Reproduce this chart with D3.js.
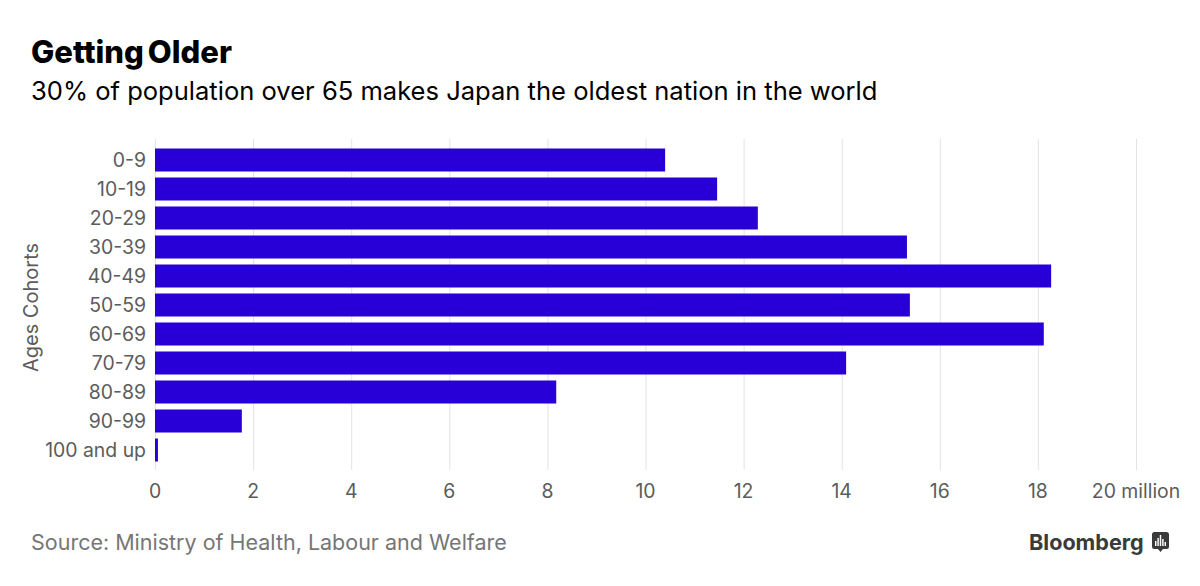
<!DOCTYPE html>
<html><head><meta charset="utf-8">
<script src="https://cdn.jsdelivr.net/npm/d3@7"></script>
<style>
html,body{margin:0;padding:0;background:#fff}
svg{display:block}
text{font-family:Inter,"Liberation Sans",Arial,sans-serif}
</style></head><body>
<svg id="c" width="1200" height="586"></svg>
<script>
const categories=["0-9","10-19","20-29","30-39","40-49","50-59","60-69","70-79","80-89","90-99","100 and up"];
const values=[10.4,11.46,12.29,15.33,18.27,15.39,18.12,14.09,8.18,1.77,0.06];
const tickValues=[0,2,4,6,8,10,12,14,16,18,20];
const logoBars=[5,8,11,7,4];

const svg=d3.select("#c");
const x=d3.scaleLinear().domain([0,20]).range([155,1136]);
const y=d3.scaleBand().domain(categories).range([145.5,464.5]).paddingInner(6/29).paddingOuter(3/29);

svg.append("g").selectAll("line").data(tickValues).join("line")
  .attr("x1",d=>x(d)+.5).attr("x2",d=>x(d)+.5).attr("y1",139).attr("y2",470)
  .attr("stroke","#e3e3e6").attr("stroke-width",1);

svg.append("g").selectAll("rect").data(values).join("rect")
  .attr("x",x(0)).attr("y",(d,i)=>y(categories[i]))
  .attr("width",d=>x(d)-x(0)).attr("height",y.bandwidth())
  .attr("fill","#2800d7");

svg.append("g").selectAll("text").data(categories).join("text")
  .attr("x",146).attr("y",d=>y(d)+y.bandwidth()/2+7)
  .attr("text-anchor","end").attr("font-size",19.4).attr("fill","#5c5c5c").text(d=>d);

svg.append("g").selectAll("text").data(tickValues).join("text")
  .attr("x",d=>d===20?1136:x(d)).attr("y",498)
  .attr("text-anchor","middle").attr("font-size",19.4).attr("fill","#5c5c5c")
  .text(d=>d===20?"20 million":d);

svg.append("text").attr("transform","translate(38,307.5) rotate(-90)")
  .attr("text-anchor","middle").attr("font-size",20).attr("fill","#5c5c5c").text("Ages Cohorts");

svg.append("text").attr("x",31).attr("y",63).attr("font-size",31).attr("font-weight",800)
  .attr("fill","#000").attr("letter-spacing",.03).attr("word-spacing",-3).text("Getting Older");
svg.append("text").attr("x",31).attr("y",100).attr("font-size",25.55).attr("fill","#000").text("30% of population over 65 makes Japan the oldest nation in the world");
svg.append("text").attr("x",31).attr("y",550).attr("font-size",21.5).attr("fill","#767676").text("Source: Ministry of Health, Labour and Welfare");
svg.append("text").attr("x",1029).attr("y",550).attr("font-size",21.6).attr("font-weight",700).attr("fill","#3a3a3a").text("Bloomberg");

const logo=svg.append("g").attr("transform","translate(1152,532)");
logo.append("path").attr("d","M2.5 0H14.5A2.5 2.5 0 0 1 17 2.5V14.5A2.5 2.5 0 0 1 14.5 17H11L8.5 20L6 17H2.5A2.5 2.5 0 0 1 0 14.5V2.5A2.5 2.5 0 0 1 2.5 0Z").attr("fill","#3a3a3a");
const lx=d3.scaleBand().domain(d3.range(logoBars.length)).range([3,14]).paddingInner(.4);
logo.selectAll("rect").data(logoBars).join("rect")
  .attr("x",(d,i)=>lx(i)).attr("width",lx.bandwidth()).attr("y",d=>14-d).attr("height",d=>d).attr("fill","#fff");
</script>
</body></html>
